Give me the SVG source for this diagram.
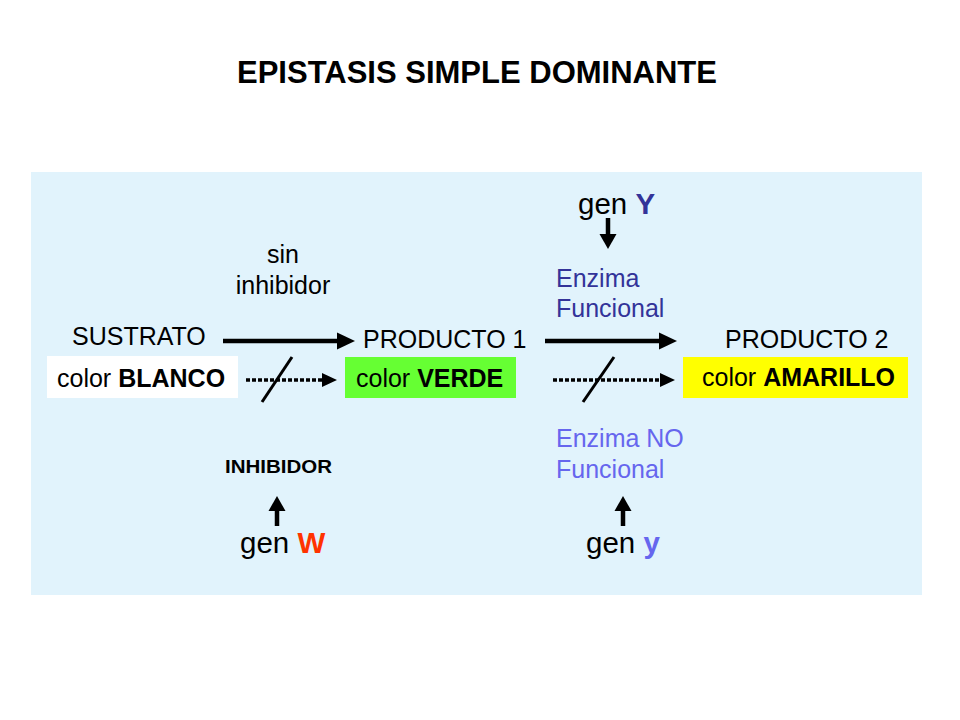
<svg xmlns="http://www.w3.org/2000/svg" width="960" height="720" viewBox="0 0 960 720">
<style>
text{font-family:"Liberation Sans",Arial,sans-serif;fill:#000}
.t{font-size:25px}
.g{font-size:29.5px}
.b{font-weight:bold}
.dk{fill:#333399}
.lt{fill:#6666EE}
.solid{stroke:#000;stroke-width:4.5;fill:none}
.dot{stroke:#000;stroke-width:3.5;stroke-dasharray:4 2;fill:none}
.slash{stroke:#000;stroke-width:3;fill:none}
.head{fill:#000}
</style>
<rect width="960" height="720" fill="#fff"/>
<text x="477" y="83" text-anchor="middle" class="b" font-size="31">EPISTASIS SIMPLE DOMINANTE</text>
<rect id="panel" x="31" y="172" width="891" height="423" fill="#E1F3FC"/>
<g id="sustrato">
<text class="t" x="72" y="345">SUSTRATO</text>
<rect x="47" y="356" width="191" height="42" fill="#fff"/>
<text class="t" x="57" y="387">color <tspan class="b">BLANCO</tspan></text>
</g>
<g id="producto1">
<text class="t" x="363" y="348">PRODUCTO 1</text>
<rect x="345" y="357" width="171" height="41" fill="#66FF33"/>
<text class="t" x="356" y="387">color <tspan class="b">VERDE</tspan></text>
</g>
<g id="producto2">
<text class="t" x="725" y="348">PRODUCTO 2</text>
<rect x="683" y="357" width="225" height="41" fill="#FFFF00"/>
<text class="t" x="702" y="386">color <tspan class="b">AMARILLO</tspan></text>
</g>
<g id="sin-inhibidor">
<text class="t" x="283" y="263" text-anchor="middle">sin</text>
<text class="t" x="283" y="294" text-anchor="middle">inhibidor</text>
</g>
<g id="inhibidor">
<text x="225" y="473" font-size="18" class="b" textLength="107" lengthAdjust="spacingAndGlyphs">INHIBIDOR</text>
</g>
<g id="genW">
<text class="g" x="240" y="553">gen <tspan class="b" fill="#FF3300">W</tspan></text>
</g>
<g id="genY">
<text class="g" x="578" y="214">gen <tspan class="b dk">Y</tspan></text>
</g>
<g id="enzima-funcional">
<text class="t dk" x="556" y="287">Enzima</text>
<text class="t dk" x="556" y="317">Funcional</text>
</g>
<g id="enzima-no-funcional">
<text class="t lt" x="556" y="447">Enzima NO</text>
<text class="t lt" x="556" y="478">Funcional</text>
</g>
<g id="geny">
<text class="g" x="586" y="553">gen <tspan class="b lt">y</tspan></text>
</g>
<g id="connectors">
<line class="solid" x1="223" y1="341" x2="338" y2="341"/>
<polygon class="head" points="337,332.5 355,341 337,349.5"/>
<line class="dot" x1="246" y1="380" x2="322" y2="380"/>
<polygon class="head" points="322,373 337,380 322,387"/>
<line class="slash" x1="262" y1="402" x2="292" y2="357"/>
<line class="solid" x1="545" y1="341" x2="660" y2="341"/>
<polygon class="head" points="659,332.5 677,341 659,349.5"/>
<line class="dot" x1="553" y1="380" x2="660" y2="380"/>
<polygon class="head" points="660,373 675,380 660,387"/>
<line class="slash" x1="583" y1="402" x2="614" y2="357"/>
<line class="solid" x1="608" y1="218" x2="608" y2="236"/>
<polygon class="head" points="599.5,234 616.5,234 608,249"/>
<line class="solid" x1="277" y1="526" x2="277" y2="508"/>
<polygon class="head" points="268.5,511 285.5,511 277,496"/>
<line class="solid" x1="623" y1="526" x2="623" y2="508"/>
<polygon class="head" points="614.5,511 631.5,511 623,496"/>
</g>
</svg>
